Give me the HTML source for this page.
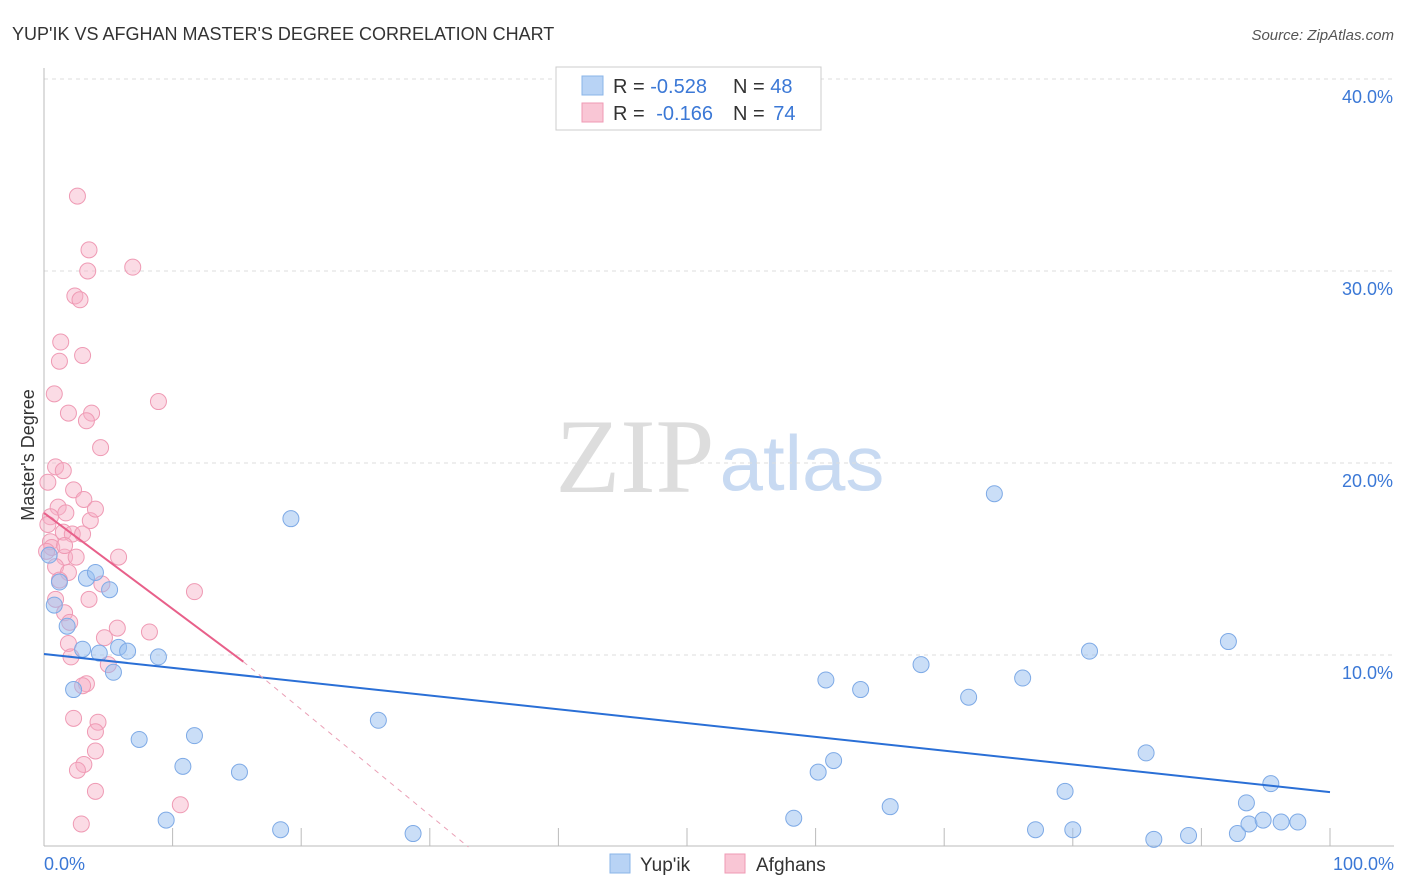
<!DOCTYPE html>
<html><head><meta charset="utf-8">
<style>
body{margin:0;background:#fff;font-family:"Liberation Sans",sans-serif;}
svg{display:block}
</style></head>
<body>
<svg id="chart" width="1406" height="892">
<text x="12" y="40" font-size="18" fill="#333">YUP'IK VS AFGHAN MASTER'S DEGREE CORRELATION CHART</text>
<text x="1394" y="40" font-size="15" fill="#555" font-style="italic" text-anchor="end">Source: ZipAtlas.com</text>
<text x="635" y="492" font-size="106" fill="#ddd" font-family="Liberation Serif,serif" text-anchor="middle">ZIP</text>
<text x="802" y="490" font-size="78" fill="#c8daf2" text-anchor="middle">atlas</text>
<text transform="translate(34,455) rotate(-90)" font-size="18" fill="#333" text-anchor="middle">Master's Degree</text>
<g id="grid"></g><g id="marks"></g>
<g>
<rect x="556" y="67" width="265" height="63" fill="#fff" stroke="#ccc"/>
<rect x="582" y="76" width="21" height="19" fill="#b8d3f5" stroke="#8ab4e8"/>
<rect x="582" y="103" width="21" height="19" fill="#f9c6d5" stroke="#ef9ab4"/>
<text x="613" y="93" font-size="20" fill="#333">R = <tspan fill="#3b78d6">-0.528</tspan><tspan x="733">N = </tspan><tspan fill="#3b78d6">48</tspan></text>
<text x="613" y="120" font-size="20" fill="#333">R = <tspan fill="#3b78d6" dx="6">-0.166</tspan><tspan x="733">N = </tspan><tspan fill="#3b78d6" dx="3">74</tspan></text>
</g>
<g>
<rect x="610" y="854" width="20" height="19" fill="#b8d3f5" stroke="#8ab4e8"/>
<text x="640" y="871" font-size="19" fill="#333">Yup'ik</text>
<rect x="725" y="854" width="20" height="19" fill="#f9c6d5" stroke="#ef9ab4"/>
<text x="756" y="871" font-size="19" fill="#333">Afghans</text>
</g>
</svg>
<script>
const yTicks=[10,20,30,40];
const xTickLabels=["0.0%","100.0%"];
const blueX=[0.8,1.8,3.3,4.0,5.1,3.0,4.3,2.3,5.4,5.8,6.5,8.9,7.4,11.7,10.8,15.2,9.5,18.4,19.2,26.0,28.7,0.4,1.2,60.8,63.5,68.2,71.9,76.1,61.4,60.2,58.3,65.8,73.9,81.3,92.1,85.7,79.4,77.1,80.0,86.3,89.0,93.5,95.4,92.8,93.7,94.8,96.2,97.5];
const blueY=[12.6,11.5,14.0,14.3,13.4,10.3,10.1,8.2,9.1,10.4,10.2,9.9,5.6,5.8,4.2,3.9,1.4,0.9,17.1,6.6,0.7,15.2,13.8,8.7,8.2,9.5,7.8,8.8,4.5,3.9,1.5,2.1,18.4,10.2,10.7,4.9,2.9,0.9,0.9,0.4,0.6,2.3,3.3,0.7,1.2,1.4,1.3,1.3];
const pinkX=[2.6,3.5,3.4,6.9,2.4,2.8,1.3,1.2,3.0,0.8,1.9,3.7,3.3,8.9,4.4,0.9,1.5,0.3,2.3,3.1,1.1,1.7,0.5,0.3,1.5,2.2,3.0,0.5,0.6,1.6,2.5,5.8,0.9,1.9,1.2,4.5,11.7,3.5,1.6,2.0,5.7,8.2,4.7,1.9,2.1,5.0,3.3,3.0,2.3,4.2,4.0,4.0,3.1,2.6,4.0,10.6,2.9,0.2,3.6,1.6,0.9,4.0];
const pinkY=[33.9,31.1,30.0,30.2,28.7,28.5,26.3,25.3,25.6,23.6,22.6,22.6,22.2,23.2,20.8,19.8,19.6,19.0,18.6,18.1,17.7,17.4,17.2,16.8,16.4,16.3,16.3,15.9,15.6,15.1,15.1,15.1,14.6,14.3,13.9,13.7,13.3,12.9,12.2,11.7,11.4,11.2,10.9,10.6,9.9,9.5,8.5,8.4,6.7,6.5,6.0,5.0,4.3,4.0,2.9,2.2,1.2,15.4,17.0,15.7,12.9,17.6];
const blueTrend=[10.05,-0.0719];
const pinkTrend=[17.4,-0.50];
const pinkSolidEnd=15.5;
const pinkDashEnd=33.0;
const X=v=>44+v*12.86, Y=v=>847-v*19.2;
const NS="http://www.w3.org/2000/svg";
function mk(p,tag,a){const e=document.createElementNS(NS,tag);for(const k in a)e.setAttribute(k,a[k]);p.appendChild(e);return e;}
const grid=document.getElementById('grid'), marks=document.getElementById('marks');
yTicks.forEach(t=>{
 const l=mk(grid,'line',{x1:44,x2:1394,y1:Y(t),y2:Y(t),stroke:'#ddd','stroke-dasharray':'4,4'});
 
 
 const tx=mk(grid,'text',{x:1393,y:Y(t)+24,'font-size':18,fill:'#3b78d6','text-anchor':'end'});
 tx.textContent=t.toFixed(1)+'%';
 
 
});
mk(grid,'line',{x1:44,x2:44,y1:68,y2:846,stroke:'#bbb'});
mk(grid,'line',{x1:44,x2:1394,y1:846,y2:846,stroke:'#bbb'});
for(let i=0;i<=10;i++){const t=mk(grid,'line',{x1:X(i*10),x2:X(i*10),y1:828,y2:846,stroke:'#bbb'});
 
 }
[[0,'start',44],[1,'end',1394]].forEach(([i,a,x])=>{const t=mk(grid,'text',{x:x,y:870,'font-size':18,fill:'#3b78d6','text-anchor':a});t.textContent=xTickLabels[i];
 
 });
pinkX.forEach((v,i)=>{const c=mk(marks,'circle',{cx:X(v),cy:Y(pinkY[i]),r:8,fill:'rgba(246,176,198,0.45)',stroke:'#ef9ab4','stroke-width':1});
 
 });
blueX.forEach((v,i)=>{const c=mk(marks,'circle',{cx:X(v),cy:Y(blueY[i]),r:8,fill:'rgba(150,190,240,0.5)',stroke:'#7eaae6','stroke-width':1});
 
 });
const bl=mk(marks,'line',{x1:X(0),y1:Y(blueTrend[0]),x2:X(100),y2:Y(blueTrend[0]+blueTrend[1]*100),stroke:'#2a6fd6','stroke-width':2});


const pe=pinkTrend[0]+pinkTrend[1]*pinkSolidEnd;
const pl=mk(marks,'line',{x1:X(0),y1:Y(pinkTrend[0]),x2:X(pinkSolidEnd),y2:Y(pe),stroke:'#e8608a','stroke-width':2});


const pd=mk(marks,'line',{x1:X(pinkSolidEnd),y1:Y(pe),x2:X(pinkDashEnd),y2:Y(0),stroke:'#eaa0b6','stroke-width':1,'stroke-dasharray':'5,5'});


</script>
</body></html>
